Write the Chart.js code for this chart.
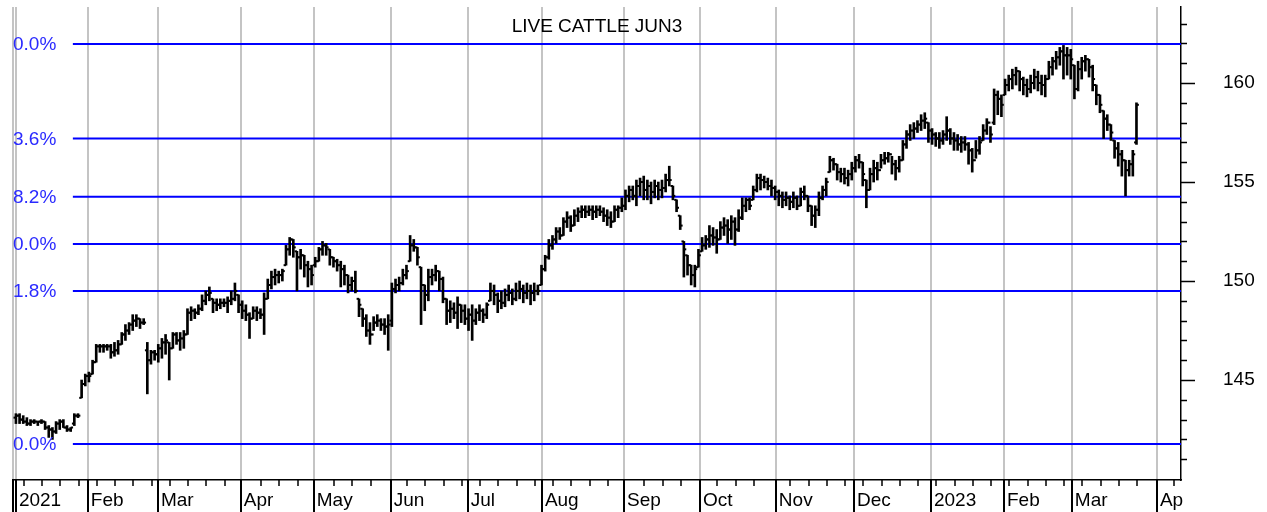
<!DOCTYPE html>
<html>
<head>
<meta charset="utf-8">
<script src="https://cdn.jsdelivr.net/npm/chart.js@4.4.0/dist/chart.umd.min.js"></script>
<style>
  html, body { margin: 0; padding: 0; background: #fff; }
  #wrap { width: 1267px; height: 512px; }
</style>
</head>
<body>
<div id="wrap"><canvas id="chart"></canvas></div>
<script>
const chartTitle = "LIVE CATTLE JUN3";

// bar index where each month starts (first entry = left edge of the plot)
const monthStarts = [-0.8, 0, 19.7, 38.9, 61.6, 81.6, 102.7, 123.8, 144.1, 166.6, 187.4, 208.2, 229.6, 250.7, 270.7, 289.3, 312.6];
const monthLabels = ["", "2021", "Feb", "Mar", "Apr", "May", "Jun", "Jul", "Aug", "Sep", "Oct", "Nov", "Dec", "2023", "Feb", "Mar", "Ap"];

const yTickValues = [141, 142, 143, 144, 145, 146, 147, 148, 149, 150, 151, 152, 153, 154, 155, 156, 157, 158, 159, 160, 161, 162, 163];

// retracement levels and the (clipped) labels shown on the left
const fibLevels = [161.97, 157.2, 154.25, 151.87, 149.49, 141.77];
const fibLabels = ["0.0%", "3.6%", "8.2%", "0.0%", "1.8%", "0.0%"];

// daily OHLC, one row per month
const opens = [
  143.1, 143.2, 143.0, 142.9, 142.8, 142.9, 142.9, 142.9, 142.9, 142.6, 142.5, 142.4, 142.8, 142.9, 142.6, 142.5, 142.8, 143.2, 144.1, 144.8,
  145.2, 145.3, 145.9, 146.7, 146.7, 146.7, 146.7, 146.4, 146.5, 146.8, 147.3, 147.5, 147.8, 148.0, 148.1, 147.9, 146.5, 146.0, 146.4,
  146.3, 146.6, 146.9, 146.9, 146.6, 147.3, 147.0, 147.1, 147.3, 148.4, 148.5, 148.4, 148.6, 149.0, 149.3, 149.1, 148.9, 148.8, 148.9, 148.9, 149.0, 149.1, 149.3,
  148.8, 148.5, 148.3, 148.1, 148.5, 148.4, 148.3, 149.1, 149.8, 150.2, 150.3, 150.3, 150.8, 151.6, 152.1, 151.5, 151.2, 151.3, 150.8, 150.6,
  150.8, 151.0, 151.6, 151.8, 151.6, 151.2, 151.0, 150.8, 150.6, 150.3, 149.8, 150.0, 149.1, 148.6, 148.1, 147.5, 147.3, 147.9, 148.0, 147.8, 147.7,
  148.0, 149.6, 149.8, 149.9, 150.3, 151.0, 151.8, 151.7, 150.7, 149.8, 149.3, 150.2, 150.3, 150.5, 150.1, 149.1, 148.5, 148.6, 148.4, 148.8, 148.5,
  148.1, 148.3, 148.0, 148.4, 148.5, 148.3, 149.0, 149.5, 149.3, 149.0, 148.9, 149.3, 149.4, 149.1, 149.5, 149.6, 149.4, 149.5, 149.4, 149.5,
  149.8, 150.6, 151.2, 151.8, 152.1, 152.5, 152.3, 153.0, 153.2, 152.8, 153.3, 153.5, 153.6, 153.5, 153.6, 153.5, 153.6, 153.5, 153.3, 153.2, 153.0, 153.6, 153.7,
  153.8, 154.3, 154.6, 154.3, 154.8, 155.0, 154.6, 154.8, 154.5, 154.8, 154.6, 154.7, 155.1, 154.8, 154.1, 153.3, 152.0, 151.3, 150.8, 150.3, 150.7,
  151.5, 151.8, 152.1, 152.3, 152.2, 152.1, 152.7, 152.8, 152.6, 153.0, 152.6, 153.2, 153.8, 154.1, 154.1, 154.6, 155.2, 155.1, 155.0, 154.8, 154.7,
  154.5, 154.3, 154.1, 154.2, 154.0, 154.2, 153.8, 154.5, 154.3, 153.8, 153.3, 153.6, 154.2, 154.6, 155.5, 156.1, 155.9, 155.5, 155.4, 155.2, 155.4,
  155.7, 156.1, 156.0, 155.1, 154.6, 155.4, 155.7, 155.6, 156.1, 156.2, 156.4, 155.9, 155.7, 156.1, 156.9, 157.4, 157.6, 157.7, 157.9, 158.1, 158.0,
  157.6, 157.4, 157.2, 157.1, 157.4, 157.6, 157.2, 157.1, 156.9, 157.0, 156.9, 156.6, 156.1, 156.6, 157.1, 157.6, 158.0, 158.0, 159.4, 159.2,
  159.4, 159.9, 160.2, 160.4, 160.6, 160.2, 159.9, 159.7, 160.0, 160.3, 160.0, 159.9, 160.2, 160.8, 161.1, 161.3, 161.6, 161.4, 161.4,
  160.9, 159.7, 160.7, 161.1, 161.2, 160.8, 159.9, 159.4, 158.6, 158.2, 157.9, 157.1, 156.7, 156.4, 156.1, 155.6, 155.9, 157.0
];
const highs = [
  143.3, 143.3, 143.2, 143.1, 143.0, 143.0, 142.9, 143.0, 142.9, 142.7, 142.6, 142.9, 143.0, 143.0, 142.7, 142.6, 143.3, 143.3, 145.0, 145.3,
  145.4, 146.0, 146.8, 146.8, 146.8, 146.8, 146.8, 146.9, 147.0, 147.4, 147.8, 147.9, 148.3, 148.3, 148.1, 148.1, 146.9, 146.5, 146.5,
  146.8, 147.1, 147.3, 146.9, 147.4, 147.4, 147.4, 147.5, 148.6, 148.7, 148.6, 148.8, 149.3, 149.5, 149.7, 149.1, 149.1, 149.1, 149.1, 149.2, 149.5, 149.9, 149.3,
  149.0, 148.8, 148.4, 148.7, 148.7, 148.6, 149.4, 150.1, 150.5, 150.6, 150.5, 150.6, 151.8, 152.2, 152.1, 151.5, 151.6, 151.3, 151.0, 150.8,
  151.2, 151.7, 152.0, 151.9, 151.6, 151.2, 151.1, 151.0, 150.8, 150.3, 150.2, 150.5, 149.1, 148.6, 148.3, 147.9, 148.2, 148.3, 148.1, 148.1, 148.3,
  149.9, 150.1, 150.2, 150.6, 150.8, 152.3, 152.1, 151.7, 150.7, 149.8, 150.6, 150.6, 150.8, 150.5, 150.2, 149.1, 149.0, 148.9, 149.2, 148.8, 148.8,
  148.6, 148.8, 148.6, 148.8, 148.6, 148.9, 149.9, 149.8, 149.4, 149.5, 149.6, 149.8, 149.6, 149.9, 150.0, 149.8, 149.9, 149.8, 149.9, 149.8,
  150.8, 151.3, 152.1, 152.3, 152.7, 152.7, 153.2, 153.5, 153.3, 153.6, 153.7, 153.8, 153.8, 153.8, 153.8, 153.8, 153.8, 153.7, 153.6, 153.5, 153.8, 153.8, 154.2,
  154.6, 154.8, 154.8, 155.1, 155.2, 155.3, 155.1, 155.0, 155.1, 155.0, 155.1, 155.4, 155.8, 154.8, 154.1, 153.3, 152.0, 151.3, 150.8, 150.8, 151.6,
  152.2, 152.3, 152.8, 152.7, 152.6, 153.0, 153.2, 153.1, 153.3, 153.2, 153.6, 154.2, 154.2, 154.2, 154.8, 155.4, 155.4, 155.3, 155.2, 155.1, 154.8,
  154.6, 154.5, 154.5, 154.3, 154.5, 154.3, 154.7, 154.8, 154.3, 153.8, 153.8, 154.5, 154.8, 155.2, 156.3, 156.2, 155.9, 155.7, 155.7, 155.6, 156.0,
  156.3, 156.4, 156.0, 155.1, 155.7, 156.1, 156.0, 156.4, 156.5, 156.5, 156.3, 156.1, 156.3, 157.1, 157.6, 157.9, 158.0, 158.1, 158.4, 158.5, 158.0,
  157.7, 157.5, 157.5, 157.6, 158.3, 157.7, 157.5, 157.4, 157.3, 157.3, 157.0, 156.7, 157.1, 157.3, 157.9, 158.2, 157.8, 159.7, 159.6, 159.4,
  160.2, 160.4, 160.7, 160.8, 160.6, 160.3, 160.2, 160.4, 160.7, 160.6, 160.4, 160.4, 161.1, 161.3, 161.6, 161.8, 161.9, 161.8, 161.7,
  160.9, 161.1, 161.3, 161.4, 161.2, 160.9, 159.9, 159.4, 158.6, 158.4, 157.9, 157.1, 157.0, 156.6, 156.1, 156.1, 156.6, 159.0
];
const lows = [
  142.8, 142.8, 142.8, 142.7, 142.7, 142.8, 142.7, 142.8, 142.5, 142.1, 142.0, 142.3, 142.5, 142.6, 142.4, 142.4, 142.7, 143.1, 144.1, 144.7,
  144.9, 145.3, 145.9, 146.4, 146.4, 146.5, 146.1, 146.2, 146.3, 146.8, 147.0, 147.3, 147.5, 147.7, 147.6, 147.8, 144.3, 145.8, 146.0,
  145.9, 146.1, 146.3, 145.0, 146.6, 146.8, 146.5, 146.6, 147.3, 148.0, 148.1, 148.3, 148.5, 148.8, 149.0, 148.4, 148.5, 148.6, 148.7, 148.4, 148.8, 149.0, 148.4,
  148.1, 148.0, 147.1, 148.1, 148.0, 148.1, 147.3, 149.1, 149.6, 149.8, 149.9, 150.0, 150.8, 151.3, 151.2, 149.5, 150.6, 150.2, 149.7, 149.8,
  150.7, 151.0, 151.3, 151.3, 150.8, 150.7, 150.5, 149.7, 149.8, 149.4, 149.5, 149.4, 148.2, 147.7, 147.2, 146.8, 147.5, 147.7, 147.5, 147.3, 146.5,
  147.7, 149.4, 149.5, 149.8, 150.1, 151.0, 151.5, 150.8, 147.8, 148.5, 149.0, 149.8, 150.0, 149.5, 148.9, 147.8, 147.9, 148.1, 147.6, 147.9, 147.8,
  147.5, 147.0, 147.8, 148.0, 147.9, 148.1, 149.0, 148.8, 148.4, 148.6, 148.7, 149.0, 148.8, 149.0, 149.1, 148.9, 149.1, 148.8, 149.0, 149.3,
  149.8, 150.5, 151.1, 151.6, 151.9, 152.1, 152.3, 152.7, 152.5, 152.8, 153.0, 153.2, 153.2, 153.3, 153.1, 153.2, 153.3, 153.0, 152.8, 152.7, 153.0, 153.2, 153.5,
  153.6, 154.0, 154.1, 153.8, 154.3, 154.1, 154.1, 153.9, 154.2, 154.1, 154.2, 154.5, 154.8, 154.1, 153.5, 152.6, 150.2, 150.3, 149.8, 149.7, 150.7,
  151.5, 151.6, 151.7, 151.8, 151.4, 152.1, 152.3, 151.9, 152.1, 151.8, 152.5, 153.1, 153.5, 153.6, 154.1, 154.5, 154.6, 154.7, 154.6, 154.3, 154.1,
  153.8, 153.7, 153.8, 153.6, 153.7, 153.6, 153.8, 154.1, 153.5, 152.8, 152.7, 153.3, 154.1, 154.3, 155.5, 155.6, 155.1, 155.0, 154.9, 154.8, 155.1,
  155.5, 155.7, 154.8, 153.7, 154.6, 155.0, 155.1, 155.7, 155.9, 156.0, 155.4, 155.1, 155.5, 156.1, 156.7, 157.1, 157.2, 157.5, 157.6, 157.7, 157.0,
  156.9, 156.8, 156.7, 156.9, 157.1, 156.9, 156.6, 156.6, 156.5, 156.6, 155.9, 155.5, 156.2, 156.4, 157.1, 157.4, 157.0, 157.9, 158.4, 158.3,
  159.4, 159.6, 159.7, 159.9, 159.6, 159.4, 159.3, 159.5, 159.7, 159.6, 159.4, 159.3, 160.2, 160.4, 160.7, 160.9, 160.2, 160.4, 160.2,
  159.2, 159.6, 160.2, 160.6, 160.3, 159.6, 158.9, 158.5, 157.2, 157.6, 157.1, 156.2, 155.8, 155.3, 154.3, 155.3, 155.3, 156.9
];
const closes = [
  143.2, 143.0, 142.9, 142.8, 142.9, 142.9, 142.9, 142.9, 142.6, 142.5, 142.4, 142.8, 142.9, 142.6, 142.5, 142.6, 143.2, 143.2, 144.8, 145.2,
  145.2, 145.9, 146.7, 146.7, 146.7, 146.7, 146.4, 146.5, 146.8, 147.3, 147.5, 147.8, 148.0, 148.1, 147.9, 147.9, 146.0, 146.4, 146.3,
  146.6, 146.9, 147.0, 146.6, 147.3, 147.0, 147.1, 147.3, 148.4, 148.5, 148.4, 148.6, 149.0, 149.3, 149.4, 148.9, 148.8, 148.9, 148.9, 149.0, 149.1, 149.5, 148.8,
  148.5, 148.3, 148.1, 148.5, 148.4, 148.3, 149.1, 149.8, 150.2, 150.3, 150.3, 150.5, 151.6, 152.1, 151.7, 151.2, 151.3, 150.8, 150.6, 150.3,
  151.0, 151.6, 151.8, 151.7, 151.2, 151.0, 150.8, 150.6, 150.3, 149.8, 150.0, 149.5, 148.8, 148.1, 147.5, 147.3, 147.9, 148.0, 147.8, 147.7, 147.8,
  149.6, 149.8, 149.9, 150.3, 150.5, 151.8, 151.7, 151.2, 149.8, 149.3, 150.2, 150.3, 150.5, 150.1, 149.1, 148.5, 148.6, 148.4, 148.8, 148.5, 148.1,
  148.3, 148.0, 148.4, 148.5, 148.3, 148.8, 149.5, 149.3, 149.0, 148.9, 149.3, 149.4, 149.1, 149.5, 149.6, 149.4, 149.5, 149.4, 149.5, 149.5,
  150.6, 151.2, 151.8, 152.1, 152.5, 152.3, 153.0, 153.2, 152.8, 153.3, 153.5, 153.6, 153.5, 153.6, 153.5, 153.6, 153.5, 153.3, 153.2, 153.0, 153.6, 153.7, 153.8,
  154.3, 154.6, 154.3, 154.8, 155.0, 154.6, 154.8, 154.5, 154.8, 154.6, 154.7, 155.1, 155.1, 154.3, 153.7, 152.8, 151.6, 150.8, 150.3, 150.6, 151.3,
  151.8, 152.1, 152.3, 152.2, 152.1, 152.7, 152.8, 152.6, 153.0, 152.6, 153.2, 153.8, 154.1, 153.8, 154.6, 155.2, 155.1, 155.0, 154.8, 154.7, 154.5,
  154.3, 154.1, 154.2, 154.0, 154.2, 153.8, 154.5, 154.3, 153.8, 153.3, 153.6, 154.2, 154.6, 155.0, 156.1, 155.9, 155.5, 155.4, 155.2, 155.4, 155.7,
  156.1, 156.0, 155.4, 154.6, 155.4, 155.7, 155.6, 156.1, 156.2, 156.4, 155.9, 155.7, 156.1, 156.9, 157.4, 157.6, 157.7, 157.9, 158.1, 158.2, 157.6,
  157.4, 157.2, 157.1, 157.4, 157.6, 157.2, 157.1, 156.9, 157.0, 156.9, 156.6, 156.1, 156.6, 157.0, 157.6, 158.0, 157.4, 159.4, 159.2, 158.9,
  159.9, 160.2, 160.4, 160.6, 160.2, 159.9, 159.7, 160.0, 160.3, 160.0, 159.9, 160.2, 160.8, 161.1, 161.3, 161.6, 161.4, 161.4, 161.2,
  159.7, 160.7, 161.1, 161.2, 160.8, 160.2, 159.4, 158.9, 158.2, 157.9, 157.5, 156.7, 156.4, 156.1, 155.6, 155.9, 156.4, 158.9
];

const FONT = "'Liberation Sans', Arial, sans-serif";
const BLUE = "#0000ff";

// draws the tick marks below the time axis and right of the price axis
const axisMarks = {
  id: "axisMarks",
  afterDraw(chart) {
    const { ctx, chartArea, scales } = chart;
    const xs = scales.x;
    const ys = scales.y;
    ctx.save();
    ctx.strokeStyle = "#000";
    ctx.lineWidth = 2;
    ctx.beginPath();
    for (const m of monthStarts) {
      const px = Math.round(xs.getPixelForValue(m));
      ctx.moveTo(px, chartArea.bottom);
      ctx.lineTo(px, chart.height);
    }
    ctx.stroke();
    // weekly ticks
    ctx.lineWidth = 1.5;
    ctx.beginPath();
    for (let w = 2.2; w < xs.max; w += 5) {
      if (monthStarts.some((m) => Math.abs(m - w) < 1.2)) continue;
      const px = Math.round(xs.getPixelForValue(w));
      ctx.moveTo(px, chartArea.bottom);
      ctx.lineTo(px, chartArea.bottom + 6);
    }
    ctx.stroke();
    ctx.beginPath();
    for (const v of yTickValues) {
      const py = Math.round(ys.getPixelForValue(v)) + 0.5;
      ctx.moveTo(chartArea.right, py);
      ctx.lineTo(chartArea.right + (v % 5 === 0 ? 14 : 6), py);
    }
    ctx.stroke();
    ctx.restore();
  },
};

// title inside the plot and the level labels at the left
const overlayText = {
  id: "overlayText",
  afterDatasetsDraw(chart) {
    const { ctx, chartArea } = chart;
    const ys = chart.scales.y;
    ctx.save();
    ctx.font = "19px " + FONT;
    ctx.fillStyle = "#000";
    ctx.textAlign = "center";
    ctx.textBaseline = "alphabetic";
    ctx.fillText(chartTitle, (chartArea.left + chartArea.right) / 2, 32);
    ctx.fillStyle = "#2a2aff";
    ctx.textAlign = "left";
    ctx.textBaseline = "middle";
    fibLevels.forEach((lvl, i) => {
      ctx.fillText(fibLabels[i], 13, ys.getPixelForValue(lvl) + 1);
    });
    ctx.restore();
  },
};

const rangeBars = highs.map((h, i) => ({ x: i, y: [lows[i], h] }));
const openTicks = opens.map((o, i) => ({ x: i - 0.33, y: o }));
const closeTicks = closes.map((c, i) => ({ x: i + 0.33, y: c }));

const datasets = [
  {
    type: "bar",
    data: rangeBars,
    backgroundColor: "#000",
    borderWidth: 0,
    barThickness: 2,
    grouped: false,
    order: 2,
  },
  {
    type: "scatter",
    data: openTicks,
    pointStyle: "line",
    pointRadius: 1.2,
    borderColor: "#000",
    borderWidth: 2,
    order: 1,
  },
  {
    type: "scatter",
    data: closeTicks,
    pointStyle: "line",
    pointRadius: 1.2,
    borderColor: "#000",
    borderWidth: 2,
    order: 1,
  },
];
fibLevels.forEach((lvl) => {
  datasets.push({
    type: "line",
    data: [
      { x: 15.6, y: lvl },
      { x: 319.2, y: lvl },
    ],
    borderColor: BLUE,
    borderWidth: 2,
    pointRadius: 0,
    order: 10,
  });
});

new Chart(document.getElementById("chart"), {
  type: "bar",
  data: { datasets: datasets },
  options: {
    responsive: true,
    maintainAspectRatio: false,
    animation: false,
    events: [],
    layout: { padding: { left: 13, top: 7, right: 0, bottom: 0 } },
    plugins: {
      legend: { display: false },
      tooltip: { enabled: false },
    },
    scales: {
      x: {
        type: "linear",
        min: -0.8,
        max: 319.2,
        offset: false,
        afterBuildTicks: (s) => {
          s.ticks = monthStarts.map((v) => ({ value: v }));
        },
        afterFit: (s) => {
          s.height = 32;
        },
        grid: { color: "#c4c4c4", lineWidth: 2, drawTicks: false, offset: false },
        border: { display: true, color: "#000", width: 1.5 },
        ticks: {
          align: "start",
          labelOffset: 3,
          padding: 9,
          maxRotation: 0,
          autoSkip: false,
          color: "#000",
          font: { family: FONT, size: 19 },
          callback: (v, i) => monthLabels[i],
        },
      },
      y: {
        position: "right",
        min: 139.95,
        max: 163.84,
        afterBuildTicks: (s) => {
          s.ticks = yTickValues.map((v) => ({ value: v }));
        },
        afterFit: (s) => {
          s.width = 86;
        },
        // ticks are drawn by the plugin; tickLength only pushes the labels out
        grid: { display: false, drawTicks: true, tickLength: 42 },
        border: { display: true, color: "#000", width: 1.5 },
        ticks: {
          padding: 0,
          autoSkip: false,
          color: "#000",
          font: { family: FONT, size: 19, lineHeight: 0.5 },
          callback: (v) => (v % 5 === 0 ? String(v) : ""),
        },
      },
    },
  },
  plugins: [axisMarks, overlayText],
});
</script>
</body>
</html>
